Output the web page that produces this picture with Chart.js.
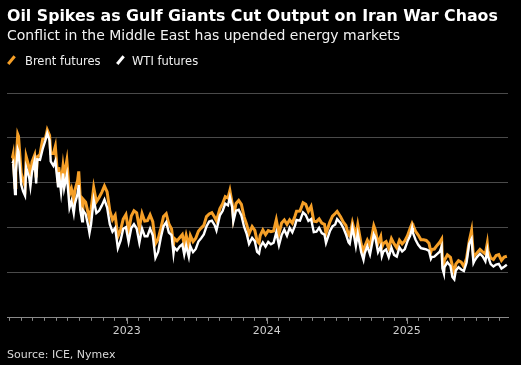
<!DOCTYPE html>
<html>
<head>
<meta charset="utf-8">
<script src="https://cdn.jsdelivr.net/npm/chart.js@4"></script>
<style>
  body { margin: 0; background: #000; }
  #wrap { position: relative; width: 521px; height: 365px; overflow: hidden; background: #000; font-family: "DejaVu Sans", sans-serif; color: #fff; }
  #grafico { position: absolute; left: 0; top: 0; }
  .txt { position: absolute; left: 7px; white-space: nowrap; }
  #titulo { top: 6px; font-size: 15.8px; line-height: 20px; font-weight: bold; }
  #subtitulo { top: 26px; font-size: 14px; line-height: 18px; color: #f2f2f2; }
  #fonte { top: 348px; font-size: 11px; line-height: 14px; color: #d9d9d9; }
  .leg { position: absolute; top: 54px; font-size: 11.5px; line-height: 14px; color: #eee; white-space: nowrap; }
  .marca { position: absolute; top: 55px; width: 2.5px; height: 10px; transform: rotate(40deg); }
</style>
</head>
<body>
<div id="wrap">
  <canvas id="grafico" width="521" height="365"></canvas>
  <div class="txt" id="titulo">Oil Spikes as Gulf Giants Cut Output on Iran War Chaos</div>
  <div class="txt" id="subtitulo">Conflict in the Middle East has upended energy markets</div>
  <div id="legenda"></div>
  <div class="txt" id="fonte">Source: ICE, Nymex</div>
</div>
<script>
const seriesNames = ['Brent futures', 'WTI futures'];
const seriesColors = ['#f59f27', '#ffffff'];

const dates = [
  '2022-03-09', '2022-03-11', '2022-03-16', '2022-03-18', '2022-03-23', '2022-03-25', '2022-04-01', '2022-04-06',
  '2022-04-11', '2022-04-14', '2022-04-22', '2022-04-25', '2022-04-29', '2022-05-06', '2022-05-10', '2022-05-13',
  '2022-05-20', '2022-05-27', '2022-06-03', '2022-06-08', '2022-06-14', '2022-06-17', '2022-06-24', '2022-06-29',
  '2022-07-06', '2022-07-08', '2022-07-14', '2022-07-19', '2022-07-22', '2022-07-29', '2022-08-05', '2022-08-10',
  '2022-08-16', '2022-08-19', '2022-08-26', '2022-08-29', '2022-09-02', '2022-09-07', '2022-09-09', '2022-09-16',
  '2022-09-23', '2022-09-26', '2022-09-30', '2022-10-07', '2022-10-14', '2022-10-21', '2022-10-28', '2022-11-04',
  '2022-11-11', '2022-11-18', '2022-11-25', '2022-12-02', '2022-12-09', '2022-12-16', '2022-12-23', '2022-12-30',
  '2023-01-06', '2023-01-13', '2023-01-20', '2023-01-27', '2023-02-03', '2023-02-10', '2023-02-17', '2023-02-24',
  '2023-03-03', '2023-03-10', '2023-03-17', '2023-03-24', '2023-03-31', '2023-04-07', '2023-04-14', '2023-04-21',
  '2023-04-28', '2023-05-03', '2023-05-05', '2023-05-12', '2023-05-19', '2023-05-26', '2023-05-31', '2023-06-05',
  '2023-06-12', '2023-06-16', '2023-06-23', '2023-06-30', '2023-07-07', '2023-07-14', '2023-07-21', '2023-07-28',
  '2023-08-04', '2023-08-11', '2023-08-18', '2023-08-23', '2023-09-01', '2023-09-08', '2023-09-15', '2023-09-22',
  '2023-09-27', '2023-10-03', '2023-10-06', '2023-10-13', '2023-10-20', '2023-10-27', '2023-11-03', '2023-11-10',
  '2023-11-16', '2023-11-24', '2023-12-01', '2023-12-07', '2023-12-12', '2023-12-15', '2023-12-22', '2023-12-29',
  '2024-01-05', '2024-01-12', '2024-01-19', '2024-01-26', '2024-02-02', '2024-02-09', '2024-02-16', '2024-02-23',
  '2024-03-01', '2024-03-08', '2024-03-15', '2024-03-19', '2024-03-28', '2024-04-05', '2024-04-12', '2024-04-19',
  '2024-04-26', '2024-05-03', '2024-05-10', '2024-05-17', '2024-05-24', '2024-05-31', '2024-06-04', '2024-06-14',
  '2024-06-21', '2024-06-28', '2024-07-03', '2024-07-12', '2024-07-19', '2024-07-26', '2024-08-02', '2024-08-05',
  '2024-08-12', '2024-08-16', '2024-08-21', '2024-08-26', '2024-09-04', '2024-09-10', '2024-09-13', '2024-09-20',
  '2024-09-27', '2024-10-04', '2024-10-07', '2024-10-11', '2024-10-18', '2024-10-25', '2024-10-28', '2024-11-01',
  '2024-11-08', '2024-11-15', '2024-11-22', '2024-11-29', '2024-12-06', '2024-12-13', '2024-12-20', '2024-12-27',
  '2025-01-03', '2025-01-10', '2025-01-15', '2025-01-17', '2025-01-24', '2025-01-31', '2025-02-07', '2025-02-14',
  '2025-02-21', '2025-02-28', '2025-03-05', '2025-03-07', '2025-03-14', '2025-03-21', '2025-03-28', '2025-04-02',
  '2025-04-04', '2025-04-08', '2025-04-09', '2025-04-17', '2025-04-25', '2025-04-30', '2025-05-05', '2025-05-09',
  '2025-05-16', '2025-05-23', '2025-05-30', '2025-06-06', '2025-06-13', '2025-06-19', '2025-06-24', '2025-06-27',
  '2025-07-03', '2025-07-11', '2025-07-18', '2025-07-25', '2025-07-30', '2025-08-01', '2025-08-08', '2025-08-15',
  '2025-08-22', '2025-08-29', '2025-09-05', '2025-09-12', '2025-09-19'
];

const brent = [
  111.1, 112.7, 98.0, 108.0, 121.6, 120.7, 104.4, 101.1,
  98.5, 111.7, 106.7, 102.3, 109.3, 112.4, 102.5, 111.6,
  112.6, 119.4, 119.7, 123.6, 121.2, 113.1, 113.1, 116.3,
  100.7, 107.0, 99.1, 107.4, 103.2, 110.0, 94.9, 97.4,
  92.3, 96.7, 101.0, 105.1, 93.0, 88.0, 92.8, 91.4,
  86.2, 84.1, 88.0, 97.9, 91.6, 93.5, 95.8, 98.6,
  96.0, 87.6, 83.6, 85.6, 76.1, 79.0, 83.9, 85.9,
  78.6, 85.3, 87.6, 86.7, 79.9, 86.4, 83.0, 83.2,
  85.8, 82.8, 73.0, 75.0, 79.8, 85.1, 86.3, 81.7,
  79.5, 72.3, 75.3, 74.2, 75.6, 77.0, 72.6, 76.7,
  71.8, 76.6, 73.9, 75.4, 78.5, 79.9, 81.1, 85.0,
  86.2, 86.8, 84.8, 83.2, 88.6, 90.7, 93.9, 93.3,
  96.6, 90.9, 84.6, 90.9, 92.2, 90.5, 84.9, 81.4,
  77.4, 80.6, 78.9, 74.1, 73.2, 76.6, 79.1, 77.0,
  78.8, 78.3, 78.6, 83.6, 77.3, 82.2, 83.5, 81.6,
  83.6, 82.1, 85.3, 87.4, 87.5, 91.2, 90.5, 87.3,
  89.5, 83.0, 82.8, 84.0, 82.1, 81.6, 77.5, 82.6,
  85.2, 86.4, 87.3, 85.0, 82.6, 81.1, 76.8, 76.3,
  82.3, 79.7, 76.1, 81.4, 72.7, 69.2, 71.6, 74.5,
  72.0, 78.1, 80.9, 79.0, 73.1, 76.1, 71.4, 73.1,
  73.9, 71.0, 75.2, 72.9, 71.1, 74.5, 72.9, 74.2,
  76.5, 79.8, 82.0, 81.3, 78.5, 76.8, 74.7, 74.7,
  74.4, 73.2, 69.3, 70.4, 70.6, 72.2, 73.6, 75.0,
  65.6, 62.8, 65.5, 68.0, 66.9, 63.1, 60.2, 63.9,
  65.4, 64.8, 62.8, 66.5, 74.2, 78.9, 67.1, 67.8,
  68.8, 70.4, 69.3, 68.4, 73.2, 69.7, 66.6, 65.9,
  67.7, 68.1, 65.5, 67.0, 67.4
];

const wti = [
  108.7, 109.3, 95.0, 104.7, 114.9, 113.9, 99.3, 96.2,
  94.3, 106.9, 102.1, 98.5, 104.7, 109.8, 99.8, 110.5,
  110.3, 115.1, 118.9, 122.1, 118.9, 109.6, 107.6, 109.8,
  98.5, 104.8, 95.8, 104.2, 97.7, 103.6, 89.0, 91.9,
  86.5, 90.8, 95.1, 99.0, 87.9, 82.9, 87.8, 86.1,
  80.7, 77.7, 81.5, 92.6, 86.6, 87.6, 89.9, 92.6,
  89.0, 81.6, 78.3, 80.0, 71.0, 74.3, 79.6, 80.3,
  73.8, 79.9, 81.6, 79.7, 73.4, 79.7, 76.3, 76.3,
  79.7, 76.7, 66.7, 69.3, 75.7, 80.7, 82.5, 77.9,
  76.8, 68.6, 71.3, 70.0, 71.7, 72.7, 68.1, 72.2,
  67.1, 71.8, 69.2, 70.6, 73.9, 75.4, 77.1, 80.6,
  82.8, 83.2, 81.3, 78.9, 85.6, 87.5, 90.8, 90.0,
  93.7, 89.2, 82.8, 87.7, 88.1, 85.5, 80.5, 77.2,
  72.9, 75.5, 74.1, 69.3, 68.6, 71.4, 73.6, 71.7,
  73.8, 72.7, 73.4, 78.0, 72.3, 76.8, 79.2, 76.5,
  80.0, 78.0, 81.0, 83.5, 83.2, 86.9, 85.7, 83.1,
  83.9, 78.1, 78.3, 80.0, 77.7, 77.0, 73.3, 78.5,
  80.7, 81.5, 83.9, 82.2, 80.1, 77.2, 73.5, 72.9,
  80.1, 76.7, 71.9, 77.4, 69.2, 65.8, 68.7, 71.9,
  68.2, 74.4, 77.1, 75.6, 69.2, 71.8, 67.4, 69.5,
  70.4, 67.0, 71.2, 68.0, 67.2, 71.3, 69.5, 70.6,
  74.0, 76.6, 80.0, 77.9, 74.7, 72.5, 71.0, 70.7,
  70.4, 69.8, 66.3, 67.0, 67.2, 68.3, 69.4, 71.7,
  62.0, 59.6, 62.4, 64.7, 63.0, 58.2, 57.1, 61.0,
  62.5, 61.5, 60.8, 64.6, 73.0, 75.1, 64.4, 65.5,
  67.0, 68.5, 67.3, 65.2, 70.0, 67.3, 63.9, 62.8,
  63.7, 64.0, 61.9, 62.7, 63.6
];

// axis range and gridlines (USD per barrel), no labels shown on the y axis
const xStart = '2022-02-23';
const xEnd = '2025-09-22';
const yMin = 40;
const yMax = 140;
const yStep = 20;

function decimalYear(s) {
  const [y, m, d] = s.split('-').map(Number);
  const start = Date.UTC(y, 0, 1);
  const end = Date.UTC(y + 1, 0, 1);
  return y + (Date.UTC(y, m - 1, d) - start) / (end - start);
}

// monthly ticks, labelled only in January
const monthTicks = [];
for (let y = 2022; y <= 2025; y++) {
  for (let m = 1; m <= 12; m++) {
    const v = decimalYear(`${y}-${String(m).padStart(2, '0')}-01`);
    if (v >= decimalYear(xStart) && v <= decimalYear(xEnd)) monthTicks.push({ value: v, year: m === 1 ? String(y) : '' });
  }
}

const legenda = document.getElementById('legenda');
const legendLeft = [[11, 25], [120, 132]];
seriesNames.forEach((nome, i) => {
  const marca = document.createElement('div');
  marca.className = 'marca';
  marca.style.left = (legendLeft[i][0] - 1) + 'px';
  marca.style.background = seriesColors[i];
  legenda.appendChild(marca);
  const texto = document.createElement('div');
  texto.className = 'leg';
  texto.style.left = legendLeft[i][1] + 'px';
  texto.textContent = nome;
  legenda.appendChild(texto);
});

const yearTicks = {
  id: 'yearTicks',
  afterDraw(chart) {
    const x = chart.scales.x;
    const ctx = chart.ctx;
    ctx.save();
    ctx.strokeStyle = '#8a8a8a';
    ctx.lineWidth = 1;
    monthTicks.filter(t => t.year).forEach(t => {
      const px = Math.round(x.getPixelForValue(t.value)) + 0.5;
      ctx.beginPath();
      ctx.moveTo(px, x.top);
      ctx.lineTo(px, x.top + 6);
      ctx.stroke();
    });
    ctx.restore();
  }
};

const xs = dates.map(decimalYear);

const grafico = new Chart(document.getElementById('grafico'), {
  type: 'line',
  data: {
    datasets: [{
      label: seriesNames[0],
      data: xs.map((x, i) => ({ x: x, y: brent[i] })),
      borderColor: seriesColors[0],
      borderWidth: 3,
      pointRadius: 0,
      tension: 0,
      order: 1
    }, {
      label: seriesNames[1],
      data: xs.map((x, i) => ({ x: x, y: wti[i] })),
      borderColor: seriesColors[1],
      borderWidth: 2.4,
      pointRadius: 0,
      tension: 0,
      order: 0
    }]
  },
  plugins: [yearTicks],
  options: {
    responsive: false,
    animation: false,
    layout: { padding: { left: 7, right: 13, top: 93, bottom: 23 } },
    plugins: {
      legend: { display: false },
      tooltip: { enabled: false },
      title: { display: false }
    },
    scales: {
      x: {
        type: 'linear',
        min: decimalYear(xStart),
        max: decimalYear(xEnd),
        afterBuildTicks: (scale) => { scale.ticks = monthTicks.map(t => ({ value: t.value })); },
        grid: { drawOnChartArea: false, drawTicks: true, tickLength: 3, color: '#8a8a8a' },
        border: { display: true, color: '#8a8a8a', width: 1 },
        ticks: {
          autoSkip: false,
          maxRotation: 0,
          padding: 4,
          color: '#cfcfcf',
          font: { family: 'DejaVu Sans', size: 11 },
          callback: (value, index) => monthTicks[index] ? monthTicks[index].year : ''
        }
      },
      y: {
        min: yMin,
        max: yMax,
        ticks: { display: false, stepSize: yStep },
        grid: { color: '#4a4a4a', drawTicks: false },
        border: { display: false }
      }
    }
  }
});
</script>
</body>
</html>
